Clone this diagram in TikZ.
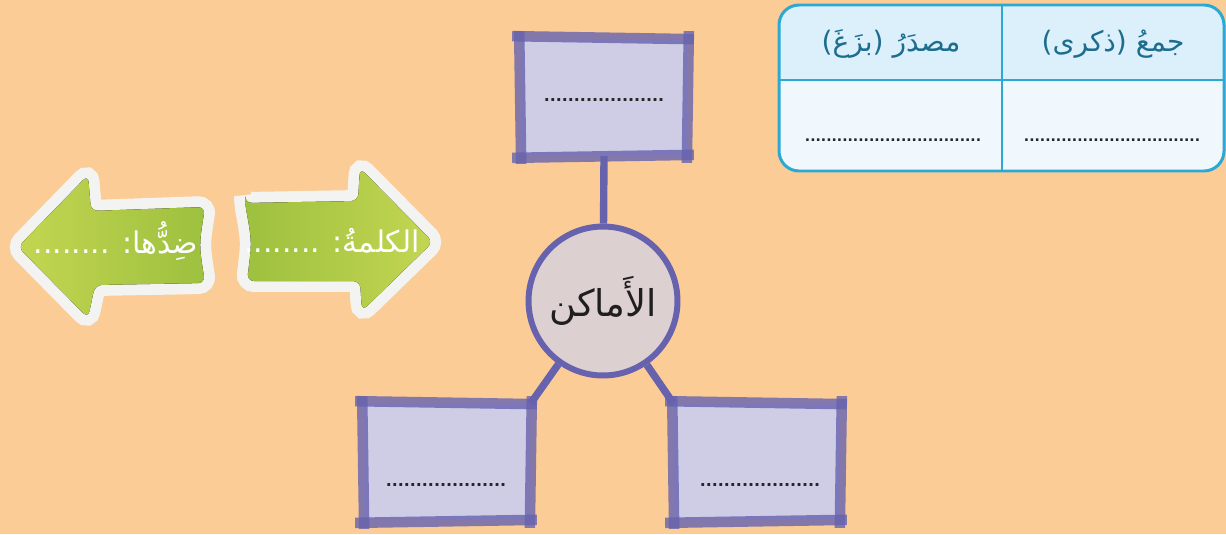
\documentclass[tikz,border=0pt]{standalone}
\usepackage{fontspec}
\usetikzlibrary{calc}
\newfontfamily\arabicfont[Script=Arabic]{DejaVu Sans}
\TeXXeTstate=1

\definecolor{peach}{HTML}{FBCC96}
\definecolor{slate}{HTML}{6762AE}
\definecolor{slatefill}{HTML}{CFCDE5}
\definecolor{hubfill}{HTML}{DDD0D1}
\definecolor{leafdark}{HTML}{9DC03F}
\definecolor{leaflight}{HTML}{C3D651}
\definecolor{rim}{HTML}{F3F3F2}
\definecolor{tealline}{HTML}{2BA9D3}
\definecolor{tealtext}{HTML}{1D6D8E}
\definecolor{headfill}{HTML}{DCF0FB}
\definecolor{bodyfill}{HTML}{F0F8FD}

\tikzset{
	sheet/.style={fill=slatefill, minimum width=3.34cm, minimum height=2.34cm, inner sep=0pt},
	brush/.style={draw=slate, opacity=0.8, line width=6pt},
	stem/.style={draw=slate, line width=4.2pt},
	hubdisc/.style={circle, fill=hubfill, draw=slate, line width=3.4pt, minimum size=2.98cm, inner sep=0pt, text=black!88, font=\arabicfont\fontsize{21}{26}\selectfont},
	dotrow/.style={inner sep=0pt, text=black!85, font=\arabicfont\bfseries\fontsize{8}{8}\selectfont},
	leaf/.style={rounded corners=4pt, line join=round, preaction={draw=rim, line width=12.5pt}},
	leaftext/.style={inner sep=0pt, text=white, font=\arabicfont\fontsize{17}{20}\selectfont},
	headtext/.style={inner sep=0pt, text=tealtext, font=\arabicfont\fontsize{16}{20}\selectfont},
}

\def\brushframe#1{
	\draw[brush] ([shift={(-8,-2)}]#1.north west) -- ([shift={(6,1)}]#1.north east);
	\draw[brush] ([shift={(-8,2)}]#1.south west) -- ([shift={(6,-1)}]#1.south east);
	\draw[brush] ([shift={(-1,-7)}]#1.north west) -- ([shift={(1,8)}]#1.south west);
	\draw[brush] ([shift={(1,-7)}]#1.north east) -- ([shift={(-1,7)}]#1.south east);
}

\begin{document}
\begin{tikzpicture}[x=0.02cm, y=-0.02cm]
			%%%%% START %%%%%
			
			\fill[peach] (0, 0) rectangle (1226, 534);
			\useasboundingbox (0, 0) rectangle (1226, 534);
			
			% arrows
			\fill[leaf, left color=leaflight, right color=leafdark]
				(18, 247) -- (88, 175) -- (91, 211) -- (205, 207)
				.. controls (199, 245) .. (205, 283) -- (95, 285) -- (88, 318) -- cycle;
			\node[leaftext] (oppositetag) at (116, 241) {\beginR ضِدُّها: ........\endR};
			
			\fill[leaf, left color=leafdark, right color=leaflight]
				(245, 203) -- (358, 201) -- (360, 168) -- (433, 242) -- (362, 311)
				-- (360, 281) -- (247, 281) .. controls (252, 242) .. (245, 203) -- cycle;
			\node[leaftext] (wordtag) at (332, 241) {\beginR الكلمةُ: ........\endR};
			
			% table
			\begin{scope}
				\clip[rounded corners=0.4cm] (779, 5) rectangle (1224, 171);
				\fill[headfill] (779, 5) rectangle (1224, 80);
				\fill[bodyfill] (779, 80) rectangle (1224, 171);
			\end{scope}
			\draw[tealline, line width=1.1pt] (779, 80) -- (1224, 80);
			\draw[tealline, line width=1.1pt] (1002, 5) -- (1002, 171);
			\draw[tealline, line width=1.7pt, rounded corners=0.4cm] (779, 5) rectangle (1224, 171);
			
			\node[headtext] (pluralhead) at (1113, 44) {\beginR جمعُ (ذكرى)\endR};
			\node[headtext] (sourcehead) at (891, 44) {\beginR مصدَرُ (بزَغَ)\endR};
			\node[dotrow] (pluraldots) at (1112, 140) {.................................};
			\node[dotrow] (sourcedots) at (893, 140) {.................................};
			
			% map
			\node[sheet] (sheettop) at (604, 97) {};
			\node[sheet] (sheetleft) at (447, 462) {};
			\node[sheet] (sheetright) at (757, 462) {};
			\node[hubdisc] (hub) at (603, 301) {\beginR الأَماكن\endR};
			
			\draw[stem] (sheettop.south) -- (hub);
			\draw[stem] (hub) -- (sheetleft.north east);
			\draw[stem] (hub) -- (sheetright.north west);
			
			\brushframe{sheettop}
			\brushframe{sheetleft}
			\brushframe{sheetright}
			
			\node[dotrow, font=\arabicfont\bfseries\fontsize{9}{9}\selectfont] (topdots) at (604, 100) {....................};
			\node[dotrow, font=\arabicfont\bfseries\fontsize{9}{9}\selectfont] (leftdots) at (446, 485) {....................};
			\node[dotrow, font=\arabicfont\bfseries\fontsize{9}{9}\selectfont] (rightdots) at (760, 485) {....................};
			
			%%%%% END %%%%%
\end{tikzpicture}
\end{document}
